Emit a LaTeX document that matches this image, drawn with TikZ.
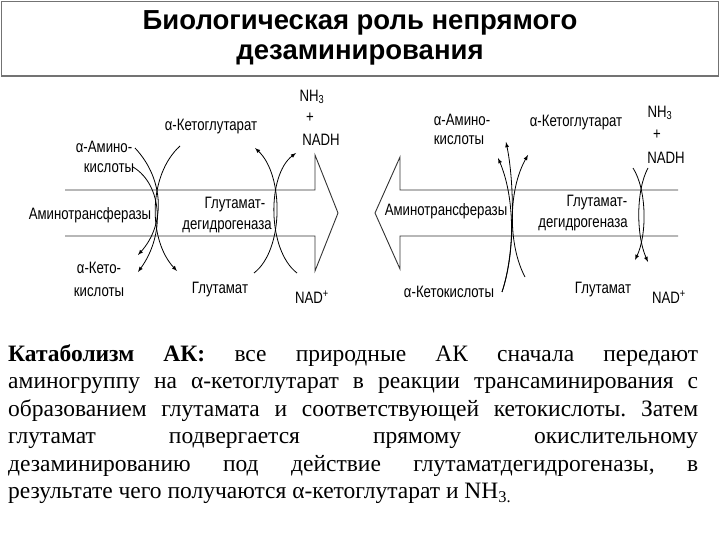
\documentclass[tikz,border=0pt]{standalone}
\usepackage{fontspec}
\setmainfont{Liberation Serif}
\setsansfont{Liberation Sans}
\newfontfamily\lblfont[FakeStretch=0.8]{Liberation Sans}
\usetikzlibrary{arrows}
\frenchspacing

\begin{document}
\begin{tikzpicture}[x=1pt,y=-1pt,
  lbl/.style={font=\lblfont\fontsize{16.5}{18}\selectfont,inner sep=0pt},
  shaft/.style={line width=0.9pt,black!80},
  rx/.style={line width=0.8pt,-latex},
  hd/.style={font=\sffamily\bfseries\fontsize{27.5}{30}\selectfont,align=center}]
\useasboundingbox (0,0) rectangle (720,540);
\draw[line width=1.5pt,black!55] (1.5,1.5) rectangle (718.5,76);
\node[hd] (title) at (360,38) {Биологическая роль непрямого\\дезаминирования};

% left scheme
\draw[shaft] (65,190) -- (315,190) -- (315,155) -- (338,213) -- (315,271) -- (315,236) -- (65,236);
\node[lbl] (aminoL) at (104,147) {α-Амино-};
\node[lbl] (aminoLb) at (109,168) {кислоты};
\node[lbl] (akgL) at (211,127) {α-Кетоглутарат};
\node[lbl] (nh3L) at (312,97) {NH\textsubscript{3}};
\node[lbl] (plusL) at (310,118) {+};
\node[lbl] (nadhL) at (321,140) {NADH};
\node[lbl] (atL) at (90,215) {Аминотрансферазы};
\node[lbl] (gdhL) at (235,205) {Глутамат-};
\node[lbl] (gdhLb) at (227,227) {дегидрогеназа};
\node[lbl] (ketoL) at (99,268) {α-Кето-};
\node[lbl] (ketoLb) at (99,292) {кислоты};
\node[lbl] (gluL) at (220,290) {Глутамат};
\node[lbl] (nadL) at (312,297) {NAD\textsuperscript{+}};
\coordinate (l1) at (135,148);  \coordinate (l1e) at (138,255);
\coordinate (l2) at (133,167);  \coordinate (l2e) at (138,272);
\coordinate (l3) at (180,146);  \coordinate (l3e) at (177,271);
\coordinate (l4) at (254,273);  \coordinate (l4e) at (255,148);
\coordinate (l5) at (297,273);  \coordinate (l5e) at (296,153);
\draw[rx] (l1) .. controls (165,180) and (165,225) .. (l1e);
\draw[rx] (l2) .. controls (163,185) and (165,235) .. (l2e);
\draw[rx] (l3) .. controls (148,175) and (148,240) .. (l3e);
\draw[rx] (l4) .. controls (284,250) and (284,175) .. (l4e);
\draw[rx] (l5) .. controls (267,250) and (267,175) .. (l5e);

% right scheme
\draw[shaft] (678,190) -- (400,190) -- (400,157) -- (375,213) -- (400,269) -- (400,236) -- (678,236);
\node[lbl] (aminoR) at (462,120) {α-Амино-};
\node[lbl] (aminoRb) at (459,140) {кислоты};
\node[lbl] (akgR) at (576,123) {α-Кетоглутарат};
\node[lbl] (nh3R) at (660,113) {NH\textsubscript{3}};
\node[lbl] (plusR) at (657,135) {+};
\node[lbl] (nadhR) at (666,158) {NADH};
\node[lbl] (atR) at (446,211) {Аминотрансферазы};
\node[lbl] (gdhR) at (597,203) {Глутамат-};
\node[lbl] (gdhRb) at (583,225) {дегидрогеназа};
\node[lbl] (ketoR) at (449,292) {α-Кетокислоты};
\node[lbl] (gluR) at (603,290) {Глутамат};
\node[lbl] (nadR) at (669,297) {NAD\textsuperscript{+}};
\coordinate (r1) at (502,292);  \coordinate (r1e) at (506,142);
\coordinate (r2) at (525,277);  \coordinate (r2e) at (528,155);
\coordinate (r2b) at (498,158);
\coordinate (g1) at (633,168);  \coordinate (g1e) at (635,260);
\coordinate (g2) at (648,168);  \coordinate (g2e) at (648,262);
\draw[rx] (r1) .. controls (516,250) and (514,180) .. (r1e);
\draw[rx] (r1) .. controls (516,250) and (514,195) .. (r2b);
\draw[rx] (r2) .. controls (508,245) and (508,190) .. (r2e);
\draw[rx] (g1) .. controls (647,190) and (647,235) .. (g1e);
\draw[rx] (g2) .. controls (636,190) and (636,235) .. (g2e);

\node[anchor=north west,inner sep=0pt,text width=690pt,align=justify,
  font=\fontsize{23.5}{27.5}\selectfont] (txt) at (8,344)
  {\textbf{Катаболизм АК:} все природные АК сначала передают\linebreak
   аминогруппу на α-кетоглутарат в реакции трансаминирования с\linebreak
   образованием глутамата и соответствующей кетокислоты. Затем\linebreak
   глутамат подвергается прямому окислительному\linebreak
   дезаминированию под действие глутаматдегидрогеназы, в\linebreak
   результате чего получаются α-кетоглутарат и NH\textsubscript{3.}};
\end{tikzpicture}
\end{document}
